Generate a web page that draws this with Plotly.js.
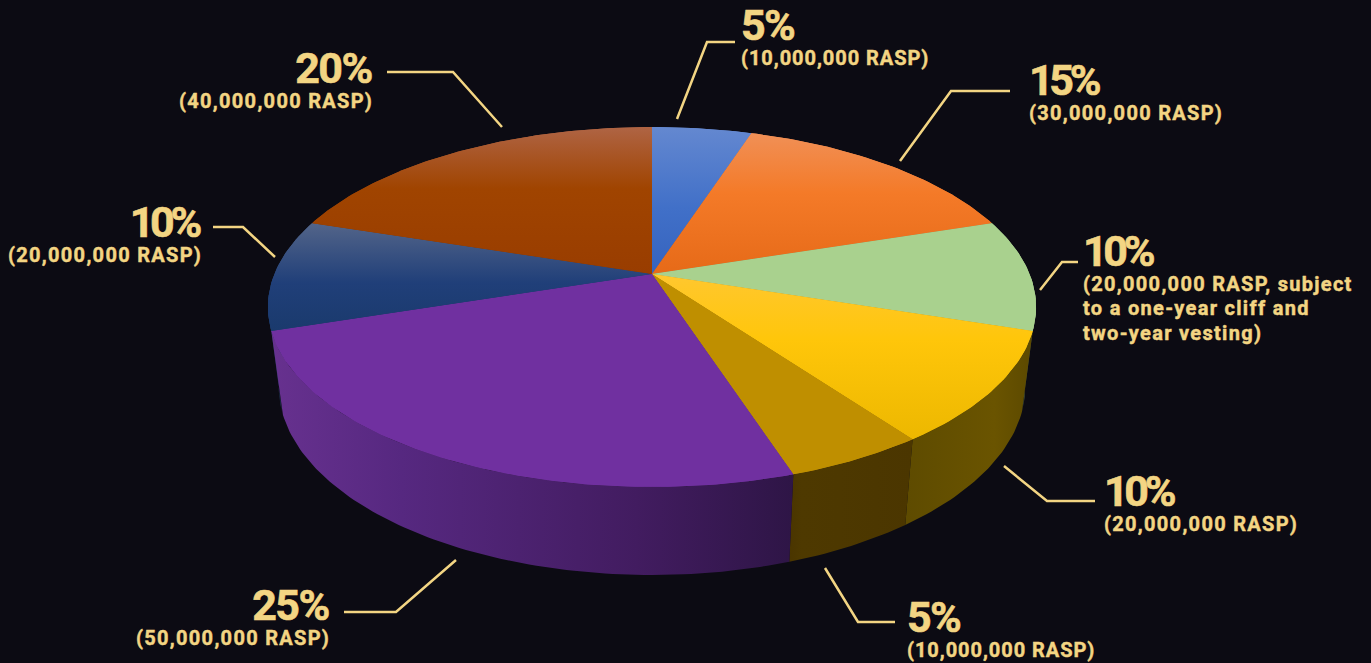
<!DOCTYPE html>
<html>
<head>
<meta charset="utf-8">
<script src="https://cdn.plot.ly/plotly-3.0.1.min.js"></script>
<style>
html, body { margin: 0; padding: 0; background: #0c0b13; overflow: hidden; }
#chart { width: 1371px; height: 663px; }
</style>
</head>
<body>
<div id="chart"></div>
<script>
// Token allocation, clockwise from twelve o'clock
const shares = [5, 15, 10, 10, 5, 25, 10, 20];
const tokens = [10000000, 30000000, 20000000, 20000000, 10000000, 50000000, 20000000, 40000000];
const notes = [[], [], ["to a one-year cliff and", "two-year vesting"], [], [], [], [], []];
const noteLead = ["", "", ", subject", "", "", "", "", ""];

// Face fill per slice: gradient stops as [offset, colour], spanning the y range in faceSpan
const faceStops = [
  [[0, "#6488D0"], [0.55, "#4170C8"], [1, "#3563BE"]],
  [[0, "#F0925B"], [0.45, "#F47A28"], [1, "#E66A18"]],
  [[0, "#A9D18E"], [1, "#A9D18E"]],
  [[0, "#FFC72F"], [0.4, "#FFC60A"], [1, "#EDB800"]],
  [[0, "#BF8F00"], [1, "#BF8F00"]],
  [[0, "#7030A0"], [1, "#7030A0"]],
  [[0, "#526489"], [0.55, "#203F79"], [1, "#1A3A6D"]],
  [[0, "#AF6444"], [0.42, "#A04400"], [1, "#993D00"]]
];
const faceSpan = [[127, 274], [127, 274], [224, 331], [274, 438], [274, 473], [274, 487], [224, 331], [127, 274]];

// Side walls with horizontal shading, back slivers first so the front walls cover them
const wallOrder = [2, 6, 3, 4, 5];
const wallStops = {
  2: [[0, "#3a4a3a"], [1, "#3a4a3a"]],
  3: [[0, "#5E4B00"], [0.7, "#6A5400"], [1, "#5C4900"]],
  4: [[0, "#4A3500"], [0.1, "#4E3900"], [1, "#4B3600"]],
  5: [[0, "#67318F"], [0.25, "#562880"], [0.7, "#421C60"], [1, "#2E1546"]],
  6: [[0, "#1c3050"], [1, "#1c3050"]]
};

// Perspective ellipses for the top face and the base of the disc
const top_ = { k: 377.6, a: 123.7, b: 274, c: -0.1833 };
const base = { k: 367, a: 117.8, b: 351.8, c: -0.1833 };
const cx = 652;

function rim(ring, deg) {
  const t = deg * Math.PI / 180, u = Math.sin(t), v = -Math.cos(t);
  const d = 1 + ring.c * v;
  return [cx + ring.k * u / d, (ring.a * v + ring.b) / d];
}
function arc(ring, from, to) {
  const n = Math.max(2, Math.ceil(Math.abs(to - from))), pts = [];
  for (let i = 0; i <= n; i++) pts.push(rim(ring, from + (to - from) * i / n));
  return pts;
}

const total = shares.reduce((p, q) => p + q, 0);
const bounds = [0];
shares.forEach((s, i) => bounds.push(bounds[i] + s / total * 360));

const traces = [];

function area(pts, fill) {
  traces.push({
    type: "scatter", mode: "lines", hoverinfo: "skip", showlegend: false,
    x: pts.map(p => p[0]), y: pts.map(p => p[1]),
    fill: "toself", line: { width: 0, color: "rgba(0,0,0,0)" }, fillgradient: fill
  });
}

// Walls go underneath the faces
wallOrder.forEach(i => {
  const a = bounds[i], b = bounds[i + 1];
  const pts = arc(top_, a, b).concat(arc(base, b, a));
  pts.push(pts[0]);
  const xs = pts.map(p => p[0]);
  area(pts, {
    type: "horizontal", colorscale: wallStops[i],
    start: Math.min(...xs), stop: Math.max(...xs)
  });
});

// Slice faces, painted twice so the shared edges close up without a dark seam
[0, 1].forEach(() => shares.forEach((s, i) => {
  const pts = [[cx, top_.b]].concat(arc(top_, bounds[i], bounds[i + 1]));
  pts.push([cx, top_.b]);
  area(pts, {
    type: "vertical", colorscale: faceStops[i],
    start: faceSpan[i][0], stop: faceSpan[i][1]
  });
}));

// Callout placement for each slice: leader polyline, text edge, text anchor, top of the text block
const leaders = [
  [[677, 119], [707, 42], [735, 42]],
  [[900, 161], [951, 91], [1010, 91]],
  [[1040, 290], [1062, 262], [1078, 262]],
  [[1004, 466], [1047, 501], [1095, 501]],
  [[825, 568], [858, 622], [895, 622]],
  [[456, 560], [396, 612], [344, 612]],
  [[275, 257], [243, 227], [213, 227]],
  [[502, 127], [453, 72], [387, 72]]
];
const textEdge = [741, 1029, 1083, 1104, 907, 330, 202, 373];
const textAnchor = ["left", "left", "left", "left", "left", "right", "right", "right"];
const textTop = [0, 55, 226, 466, 592, 580, 197, 43];

const ink = "#F3D583";

// The digit 1 sets narrower in this lettering, so spacing depends on the leading figure.
// The percent sign stays untracked so right-aligned blocks keep a clean edge.
function headingRun(value) {
  const digits = String(value);
  const track = digits[0] === "1" ? -4.3 : -1.6;
  const look = "font-size:43px;stroke:" + ink + ";stroke-width:0.6px";
  return "<span style=\"" + look + ";letter-spacing:" + track + "px\">" + digits + "</span>" +
    "<span style=\"" + look + "\">%</span>";
}
function detailRun(text) {
  const track = text.indexOf("(10,") === 0 ? 0.95 : 1.3;
  return "<span style=\"font-size:20px;letter-spacing:" + track + "px;stroke:" + ink + ";stroke-width:0.45px\">" + text + "</span>";
}

const annotations = [];
shares.forEach((s, i) => {
  const line = leaders[i];
  traces.push({
    type: "scatter", mode: "lines", hoverinfo: "skip", showlegend: false,
    x: line.map(p => p[0]), y: line.map(p => p[1]),
    line: { color: ink, width: 2.5 }
  });
  const first = "(" + tokens[i].toLocaleString("en-US") + " RASP" + noteLead[i];
  const lines = [first].concat(notes[i]);
  lines[lines.length - 1] += ")";
  const text = [headingRun(s)].concat(lines.map(detailRun)).join("<br>");
  annotations.push({
    xref: "x", yref: "y", x: textEdge[i], y: textTop[i], xanchor: textAnchor[i], yanchor: "top",
    text: text, showarrow: false, align: textAnchor[i], borderpad: 0, borderwidth: 0,
    font: { family: "Roboto, sans-serif", size: 19, color: ink, weight: 700 }
  });
});

const hidden = { visible: false, fixedrange: true, showgrid: false, zeroline: false };
Plotly.newPlot("chart", traces, {
  width: 1371, height: 663,
  margin: { l: 0, r: 0, t: 0, b: 0, pad: 0 },
  paper_bgcolor: "#0c0b13", plot_bgcolor: "#0c0b13",
  xaxis: Object.assign({ range: [0, 1371] }, hidden),
  yaxis: Object.assign({ range: [663, 0] }, hidden),
  annotations: annotations,
  showlegend: false
}, { displayModeBar: false, staticPlot: true });
</script>
</body>
</html>
